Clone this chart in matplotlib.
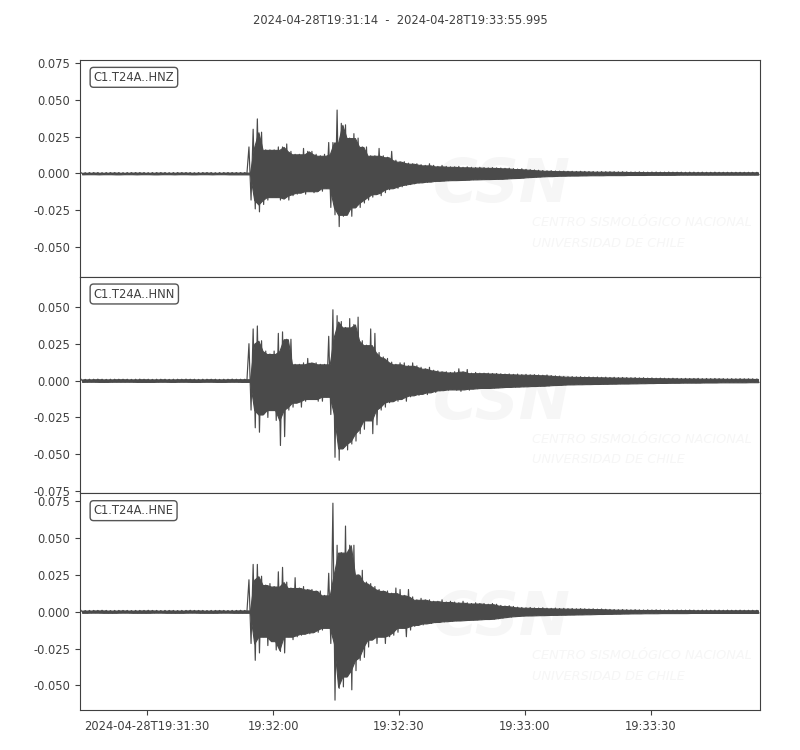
#sismograma estacion T24A (3 componentes)

import datetime as dt
import numpy as np
import matplotlib
matplotlib.use("Agg")
import matplotlib.pyplot as plt
from matplotlib.ticker import MultipleLocator, FormatStrFormatter

inicio = dt.datetime(2024, 4, 28, 19, 31, 14)
fin = dt.datetime(2024, 4, 28, 19, 33, 55, 995000)
canales = ["C1.T24A..HNZ", "C1.T24A..HNN", "C1.T24A..HNE"]

# envolvente max/min por cada segundo, en milesimas
hnz_max = [0.6, 0.5, 0.6, 0.6, 0.6, 0.5, 0.6, 0.6, 0.6, 0.6,
           0.5, 0.6, 0.6, 0.6, 0.6, 0.6, 0.5, 0.6, 0.6, 0.6,
           0.6, 0.5, 0.6, 0.6, 0.6, 0.6, 0.6, 0.5, 0.6, 0.6,
           0.6, 0.6, 0.5, 0.6, 0.6, 0.6, 0.6, 0.6, 0.6, 0.6,
           18, 30, 37, 28, 16, 16, 16, 18, 18, 20,
           15, 13, 13, 17, 15, 15, 13, 12, 13, 21,
           21, 43, 34, 33, 24, 27, 24, 18, 18, 12,
           12, 17, 12, 11, 15, 9, 8, 8, 7, 6.6,
           6.6, 6, 5.5, 6.6, 5.5, 4.8, 5.5, 4.8, 4.5, 4.5,
           4.8, 4.2, 4.5, 4.2, 4.0, 4.2, 4.0, 3.8, 4.0, 3.8,
           3.7, 3.5, 3.6, 3.3, 3.0, 3.2, 2.8, 2.6, 2.4, 2.2,
           2.0, 1.8, 1.9, 1.7, 1.6, 1.6, 1.5, 1.5, 1.4, 1.5,
           1.4, 1.3, 1.3, 1.2, 1.3, 1.2, 1.2, 1.2, 1.1, 1.2,
           1.1, 1.0, 1.0, 1.1, 1.0, 0.9, 1.0, 1.0, 0.9, 0.9,
           1.0, 0.9, 0.9, 0.9, 0.8, 0.9, 0.9, 0.8, 0.9, 0.8,
           0.8, 0.9, 0.8, 0.8, 0.8, 0.8, 0.8, 0.8, 0.8, 0.8,
           0.8, 0.8]
hnz_min = [-0.6, -0.6, -0.5, -0.6, -0.6, -0.6, -0.5, -0.6, -0.6, -0.6,
           -0.6, -0.5, -0.6, -0.6, -0.6, -0.5, -0.6, -0.6, -0.6, -0.6,
           -0.5, -0.6, -0.6, -0.6, -0.5, -0.6, -0.6, -0.6, -0.6, -0.5,
           -0.6, -0.6, -0.6, -0.5, -0.6, -0.6, -0.6, -0.6, -0.6, -0.6,
           -18, -24, -26, -21, -18, -16, -16, -18, -17, -18,
           -15, -14, -13, -14, -12, -13, -12, -12, -10, -23,
           -28, -36, -29, -28, -29, -23, -23, -20, -18, -16,
           -14, -15, -13, -11, -10, -10, -9, -8, -7.5, -7,
           -6.5, -6, -6, -5.5, -5.5, -5, -5, -4.8, -4.6, -4.5,
           -4.5, -4.4, -4.3, -4.2, -4.0, -4.0, -3.9, -3.8, -3.8, -3.7,
           -3.6, -3.6, -3.4, -3.2, -3.1, -3.0, -2.8, -2.5, -2.4, -2.2,
           -2.1, -1.9, -1.8, -1.8, -1.6, -1.5, -1.6, -1.4, -1.4, -1.4,
           -1.3, -1.3, -1.2, -1.3, -1.2, -1.2, -1.1, -1.2, -1.1, -1.1,
           -1.1, -1.0, -1.1, -1.0, -1.0, -1.0, -0.9, -1.0, -0.9, -1.0,
           -0.9, -0.9, -0.9, -0.8, -0.9, -0.8, -0.9, -0.8, -0.8, -0.9,
           -0.8, -0.8, -0.8, -0.8, -0.8, -0.8, -0.8, -0.8, -0.8, -0.8,
           -0.8, -0.8]

hnn_max = [0.9, 0.8, 0.9, 0.9, 1.0, 0.9, 0.8, 0.9, 0.9, 0.9,
           0.9, 0.9, 0.8, 0.9, 1.0, 0.9, 0.9, 0.8, 0.9, 0.9,
           0.9, 0.8, 0.9, 0.9, 0.9, 1.0, 0.9, 0.9, 0.8, 0.9,
           0.9, 0.9, 0.9, 0.8, 0.9, 0.9, 1.0, 0.9, 0.9, 0.9,
           25, 35, 37, 27, 20, 18, 20, 32, 33, 28,
           28, 11, 11, 12, 15, 12, 12, 11, 11, 30,
           48, 44, 40, 36, 42, 38, 43, 27, 24, 35,
           32, 19, 16, 15, 12.5, 11, 12, 12, 10, 12,
           10, 9, 8, 9, 7, 6.6, 6, 6, 5.5, 6,
           8, 6, 7.5, 5, 5.5, 5, 5, 5, 4.8, 4.8,
           4.6, 4.4, 4.5, 4.2, 4.4, 4.0, 4.2, 3.9, 4.0, 3.8,
           3.6, 3.8, 3.4, 3.2, 3.0, 2.8, 2.6, 2.7, 2.5, 2.6,
           2.4, 2.5, 2.3, 2.4, 2.2, 2.3, 2.1, 2.2, 2.0, 2.1,
           2.0, 1.9, 2.0, 1.8, 1.9, 1.7, 1.8, 1.6, 1.7, 1.6,
           1.5, 1.6, 1.5, 1.4, 1.5, 1.4, 1.4, 1.5, 1.3, 1.4,
           1.3, 1.4, 1.3, 1.3, 1.2, 1.3, 1.2, 1.3, 1.2, 1.2,
           1.2, 1.1]
hnn_min = [-0.9, -0.9, -0.8, -0.9, -0.9, -1.0, -0.9, -0.9, -0.8, -0.9,
           -0.9, -0.8, -0.9, -0.9, -0.9, -1.0, -0.9, -0.9, -0.9, -0.8,
           -0.9, -0.9, -1.0, -0.9, -0.8, -0.9, -0.9, -0.9, -0.9, -0.9,
           -0.8, -0.9, -0.9, -1.0, -0.9, -0.9, -0.8, -0.9, -0.9, -0.9,
           -20, -32, -35, -23, -25, -20, -27, -44, -38, -20,
           -18, -15, -18, -14, -12.5, -12.5, -14, -14, -11, -23,
           -52, -54, -46, -47, -43, -41, -36, -33, -27, -36,
           -30, -20, -18, -15, -14, -14, -12.5, -14, -11, -10,
           -10, -9, -9.5, -8, -8, -7, -6.5, -6.5, -6, -6.5,
           -7.3, -6, -6.5, -5.5, -5.5, -5.2, -5, -5, -5, -4.8,
           -4.7, -4.5, -4.3, -4.4, -4.1, -4.2, -3.9, -4.0, -3.7, -3.8,
           -3.5, -3.6, -3.3, -3.1, -3.0, -2.9, -2.7, -2.6, -2.6, -2.5,
           -2.5, -2.4, -2.4, -2.3, -2.3, -2.2, -2.2, -2.1, -2.1, -2.0,
           -2.0, -2.0, -1.9, -1.9, -1.8, -1.8, -1.7, -1.7, -1.6, -1.6,
           -1.6, -1.5, -1.5, -1.5, -1.4, -1.4, -1.5, -1.4, -1.4, -1.3,
           -1.3, -1.3, -1.3, -1.2, -1.3, -1.2, -1.2, -1.2, -1.2, -1.2,
           -1.1, -1.2]

hne_max = [0.8, 0.7, 0.8, 0.8, 0.8, 0.9, 0.8, 0.7, 0.8, 0.8,
           0.8, 0.8, 0.7, 0.8, 0.8, 0.8, 0.9, 0.8, 0.8, 0.7,
           0.8, 0.8, 0.8, 0.7, 0.8, 0.8, 0.9, 0.8, 0.8, 0.8,
           0.7, 0.8, 0.8, 0.8, 0.8, 0.7, 0.8, 0.8, 0.9, 0.8,
           21.6, 32, 32, 24, 18, 19, 17, 27, 30, 20,
           16, 23, 16, 17, 15, 15, 14, 14, 11, 26,
           73.5, 45, 40, 58, 45, 45, 25, 28, 20, 19,
           17, 15, 14, 14, 12.5, 16, 15, 11, 15, 10,
           8, 9, 8, 8, 7, 7, 8, 6.5, 7, 6.5,
           6, 7, 6, 5.5, 6, 5.5, 5.5, 5, 5.5, 5,
           4.2, 3.8, 4.0, 3.5, 3.0, 2.8, 2.6, 2.8, 2.5, 2.4,
           2.6, 2.3, 2.2, 2.4, 2.1, 2.2, 2.0, 2.1, 1.9, 2.0,
           1.9, 1.8, 1.9, 1.7, 1.8, 1.6, 1.5, 1.4, 1.3, 1.4,
           1.3, 1.2, 1.3, 1.2, 1.1, 1.2, 1.1, 1.2, 1.1, 1.0,
           1.1, 1.0, 1.1, 1.0, 1.0, 1.1, 1.0, 0.9, 1.0, 1.0,
           0.9, 1.0, 1.0, 0.9, 1.0, 0.9, 0.9, 1.0, 0.9, 0.9,
           0.9, 0.9]
hne_min = [-0.8, -0.8, -0.8, -0.7, -0.8, -0.8, -0.8, -0.9, -0.8, -0.8,
           -0.7, -0.8, -0.8, -0.8, -0.8, -0.9, -0.8, -0.8, -0.7, -0.8,
           -0.8, -0.8, -0.9, -0.8, -0.8, -0.8, -0.7, -0.8, -0.8, -0.8,
           -0.8, -0.9, -0.8, -0.8, -0.7, -0.8, -0.8, -0.8, -0.8, -0.8,
           -21.6, -33, -28, -17, -23, -20, -26, -27, -28, -17,
           -19, -17, -16, -15, -15, -14, -14, -12.5, -11, -21.6,
           -60, -52, -51, -44, -53, -40, -33, -31, -24, -19,
           -21.6, -17, -21.6, -17, -16, -14, -11, -17, -12.5, -10,
           -9, -9, -8, -8, -7.5, -7, -7, -6.5, -6.5, -6.2,
           -6, -6, -5.8, -5.6, -5.5, -5.4, -5.2, -5, -5, -4.8,
           -4.4, -4.0, -3.7, -3.3, -3.1, -2.9, -2.7, -2.6, -2.6, -2.5,
           -2.4, -2.4, -2.3, -2.2, -2.2, -2.1, -2.1, -2.0, -2.0, -1.9,
           -1.9, -1.8, -1.8, -1.7, -1.6, -1.6, -1.5, -1.5, -1.4, -1.4,
           -1.3, -1.3, -1.2, -1.2, -1.2, -1.1, -1.2, -1.1, -1.1, -1.0,
           -1.0, -1.1, -1.0, -1.0, -1.0, -1.0, -0.9, -1.0, -1.0, -0.9,
           -0.9, -0.9, -1.0, -0.9, -0.9, -0.9, -0.9, -0.9, -0.9, -0.9,
           -0.9, -0.9]

tick_horas = ["19:31:30", "19:32:00", "19:32:30", "19:33:00", "19:33:30"]

gris = "#4a4a4a"
gris_txt = "#404040"
marca = "#f6f6f6"

env_max = [hnz_max, hnn_max, hne_max]
env_min = [hnz_min, hnn_min, hne_min]

# todos los canales con el mismo rango vertical (como obspy equal_scale)
rangos = [(max(a) - min(b)) / 2.0 for a, b in zip(env_max, env_min)]
medio_rango = max(rangos) * 1e-3 * 1.1

dur = (fin - inicio).total_seconds()
tick_seg = []
for h in tick_horas:
    hh, mm, ss = [int(v) for v in h.split(":")]
    tick_seg.append((inicio.replace(hour=hh, minute=mm, second=ss) - inicio).total_seconds())
tick_txt = [inicio.strftime("%Y-%m-%dT") + tick_horas[0]] + tick_horas[1:]

fig = plt.figure(figsize=(8, 7.5), dpi=100)
fig.text(0.5, 0.972, inicio.strftime("%Y-%m-%dT%H:%M:%S") + "  -  " +
         fin.strftime("%Y-%m-%dT%H:%M:%S.") + "%03d" % (fin.microsecond // 1000),
         ha="center", va="center", fontsize=8.3, color=gris_txt)

izq, ancho = 0.1, 0.85
arriba, abajo = 0.92, 710 / 750.0
alto = (arriba - (1 - abajo)) / 3.0

for i in range(3):
    ax = fig.add_axes([izq, arriba - alto * (i + 1), ancho, alto])
    hi = np.array(env_max[i]) * 1e-3
    lo = np.array(env_min[i]) * 1e-3
    n = len(hi)
    # nucleo solido = minimo local de la envolvente, picos = zigzag max/min
    hi_pad = np.concatenate([hi[:1], hi, hi[-1:]])
    lo_pad = np.concatenate([lo[:1], lo, lo[-1:]])
    nucleo_hi = np.minimum(np.minimum(hi_pad[:-2], hi_pad[1:-1]), hi_pad[2:])
    nucleo_lo = np.maximum(np.maximum(lo_pad[:-2], lo_pad[1:-1]), lo_pad[2:])
    t = np.arange(n)
    x = np.empty(2 * n)
    y = np.empty(2 * n)
    x[0::2] = t + 0.25
    x[1::2] = t + 0.75
    y[0::2] = hi
    y[1::2] = lo
    ax.fill_between(t + 0.5, nucleo_lo, nucleo_hi, color=gris, lw=0.8, zorder=3)
    ax.plot(x, y, color=gris, lw=0.85, zorder=3)
    centro = (hi.max() + lo.min()) / 2.0
    ax.set_ylim(centro - medio_rango, centro + medio_rango)
    ax.set_xlim(0, dur)

    # marca de agua CSN
    ax.text(0.62, 0.42, "CSN", transform=ax.transAxes, fontsize=44,
            fontweight="bold", style="italic", color=marca, ha="center",
            va="center", zorder=1)
    ax.text(0.665, 0.25, "CENTRO SISMOLÓGICO NACIONAL", transform=ax.transAxes,
            fontsize=9.3, style="italic", color=marca, ha="left", va="center", zorder=1)
    ax.text(0.665, 0.155, "UNIVERSIDAD DE CHILE", transform=ax.transAxes,
            fontsize=9.3, style="italic", color=marca, ha="left", va="center", zorder=1)

    ax.text(0.02, 0.95, canales[i], transform=ax.transAxes, ha="left", va="top",
            fontsize=8.3, color=gris_txt, zorder=5,
            bbox=dict(boxstyle="round,pad=0.3", fc="white", ec="#555555", lw=1))

    ax.yaxis.set_major_locator(MultipleLocator(0.025))
    ax.yaxis.set_major_formatter(FormatStrFormatter("%.3f"))
    for s in ax.spines.values():
        s.set_color(gris_txt)
    ax.tick_params(axis="both", colors=gris_txt, labelsize=8.3, labelcolor=gris_txt)
    ax.set_xticks(tick_seg)
    if i < 2:
        ax.tick_params(axis="x", bottom=False, labelbottom=False)
    else:
        ax.set_xticklabels(tick_txt)

fig.savefig("out.png", dpi=100)
